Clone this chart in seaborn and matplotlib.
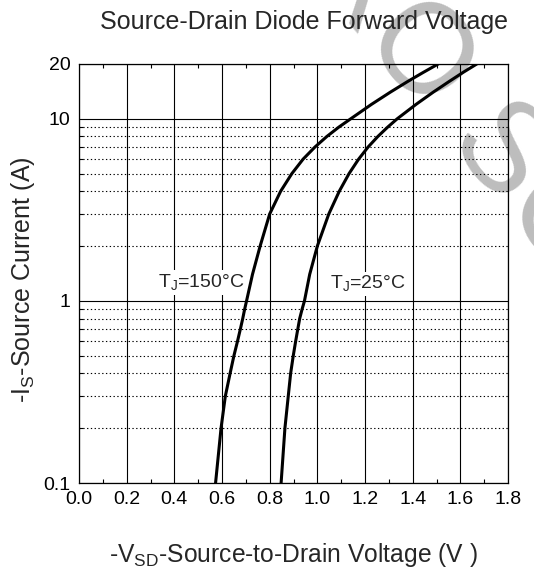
import numpy as np
import pandas as pd
import matplotlib
matplotlib.use('Agg')
import matplotlib.pyplot as plt
import matplotlib.ticker as mticker
import seaborn as sns

# ── data ───────────────────────────────────────────────────
v_150 = [0.573, 0.596, 0.614, 0.634, 0.650, 0.665, 0.677, 0.687, 0.695, 0.703,
         0.728, 0.760, 0.800, 0.846, 0.893, 0.940, 0.990, 1.040, 1.090, 1.140,
         1.227, 1.306, 1.378, 1.445, 1.507]
i_150 = [0.1, 0.2, 0.3, 0.4, 0.5, 0.6, 0.7, 0.8, 0.9, 1.0,
         1.4, 2.0, 3.0, 4.0, 5.0, 6.0, 7.0, 8.0, 9.0, 10.0,
         12.0, 14.0, 16.0, 18.0, 20.0]
v_25 = [0.848, 0.864, 0.878, 0.888, 0.899, 0.909, 0.918, 0.926, 0.936, 0.946,
        0.968, 1.000, 1.048, 1.092, 1.133, 1.173, 1.213, 1.254, 1.295, 1.335,
        1.414, 1.486, 1.552, 1.612, 1.669]
i_25 = [0.1, 0.2, 0.3, 0.4, 0.5, 0.6, 0.7, 0.8, 0.9, 1.0,
        1.4, 2.0, 3.0, 4.0, 5.0, 6.0, 7.0, 8.0, 9.0, 10.0,
        12.0, 14.0, 16.0, 18.0, 20.0]
x_ticks = [0.0, 0.2, 0.4, 0.6, 0.8, 1.0, 1.2, 1.4, 1.6, 1.8]
y_ticks = [0.1, 1, 10, 20]
y_tick_labels = ['0.1', '1', '10', '20']

df = pd.concat([
    pd.DataFrame({'V': v_150, 'I': i_150, 'Tj': '150'}),
    pd.DataFrame({'V': v_25, 'I': i_25, 'Tj': '25'}),
])

sns.set_style('white')
plt.rcParams['font.family'] = ['Liberation Sans', 'DejaVu Sans']
plt.rcParams['mathtext.fontset'] = 'custom'
plt.rcParams['mathtext.rm'] = 'Liberation Sans'

W, H = 534, 569
fig = plt.figure(figsize=(W / 100, H / 100), dpi=100)
ax = fig.add_axes([79 / W, (H - 483) / H, 429 / W, 419 / H])
ax.patch.set_alpha(0)

sns.lineplot(data=df, x='V', y='I', hue='Tj', palette=['black', 'black'],
             legend=False, linewidth=2.2, ax=ax, zorder=4)

ax.set_yscale('log')
ax.set_xlim(0, 1.8)
ax.set_ylim(0.1, 20)
ax.set_xticks(x_ticks)
ax.set_xticklabels([f'{t:.1f}' for t in x_ticks])
ax.xaxis.set_minor_locator(mticker.MultipleLocator(0.1))
ax.set_yticks(y_ticks)
ax.set_yticklabels(y_tick_labels)
ax.yaxis.set_minor_locator(mticker.LogLocator(base=10, subs=np.arange(2, 10)))
ax.yaxis.set_minor_formatter(mticker.NullFormatter())

ax.grid(which='major', axis='x', color='black', linestyle='-', linewidth=0.8)
ax.grid(which='major', axis='y', color='black', linestyle='-', linewidth=0.8)
ax.grid(which='minor', axis='y', color='black', linestyle=(0, (1.2, 2.2)), linewidth=0.8)
ax.set_axisbelow(True)

ax.tick_params(which='both', direction='in', top=True, bottom=True, left=True,
               right=False, colors='black', labelsize=14)
ax.tick_params(which='major', length=0, pad=6)
ax.tick_params(which='minor', length=3, width=0.8)
for s in ax.spines.values():
    s.set_visible(True)
    s.set_color('black')
    s.set_linewidth(0.9)

box = dict(facecolor='white', edgecolor='none', pad=1.5)
ax.text(0.515, 1.26, r'T$_\mathregular{J}$=150°C', fontsize=14,
        ha='center', va='center', bbox=box, zorder=3)
ax.text(1.21, 1.24, r'T$_\mathregular{J}$=25°C', fontsize=14,
        ha='center', va='center', bbox=box, zorder=3)

ax.set_xlabel('')
ax.set_ylabel('')
fig.text(304 / W, 1 - 22 / H, 'Source-Drain Diode Forward Voltage',
         fontsize=18, ha='center', va='center')
fig.text(293 / W, 1 - 555 / H, r'-V$_\mathregular{SD}$-Source-to-Drain Voltage (V )',
         fontsize=17.7, ha='center', va='center')
fig.text(23 / W, 1 - 280 / H, r'-I$_\mathregular{S}$-Source Current (A)',
         fontsize=18, ha='center', va='center', rotation=90)

# faint watermark behind the chart
fig.text(384 / W, 1 - 14 / H, 'MICRO SO', fontsize=92, color='#bdbdbd',
         ha='center', va='center', rotation=-50, rotation_mode='anchor', zorder=-1)

fig.savefig('out.png', dpi=100)
